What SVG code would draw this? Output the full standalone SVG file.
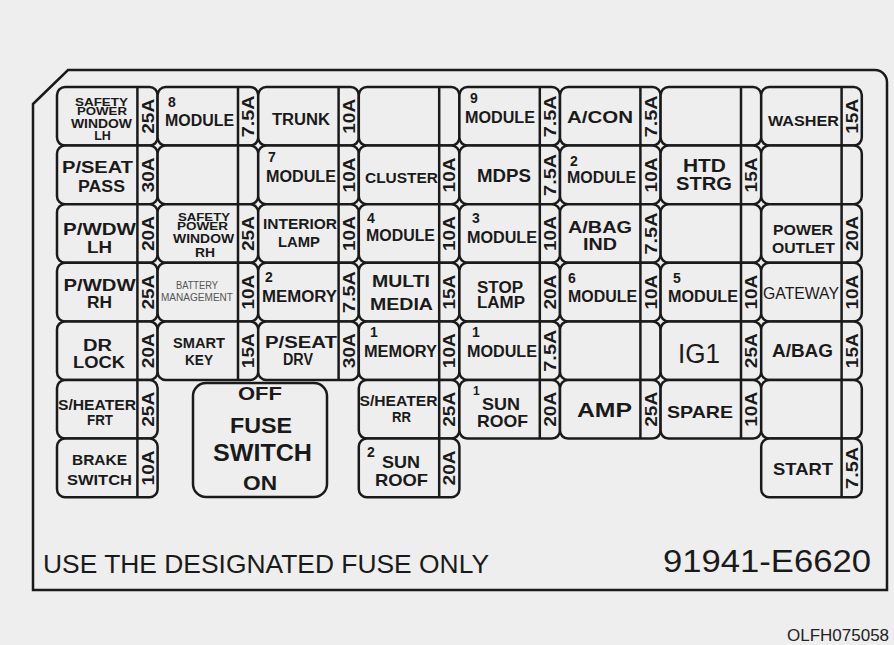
<svg xmlns="http://www.w3.org/2000/svg" xmlns:xlink="http://www.w3.org/1999/xlink" width="894" height="645" viewBox="0 0 894 645">
<style>
.bg{fill:#eeeeee}
.f{fill:#eeeeee;stroke:#1a1a1a;stroke-width:2.5}
.s{stroke:#1a1a1a;stroke-width:2.5}
.t{font-family:"Liberation Sans",Arial,sans-serif;font-weight:bold;font-size:16px;fill:#1a1a1a;text-anchor:middle}
.n{font-family:"Liberation Sans",Arial,sans-serif;font-weight:bold;font-size:14px;fill:#1a1a1a;text-anchor:start}
.a{font-family:"Liberation Sans",Arial,sans-serif;font-weight:bold;font-size:17px;fill:#1a1a1a;text-anchor:middle}
.sm{font-size:11px}
.sm13{font-size:12.5px}
.bm{font-family:"Liberation Sans",Arial,sans-serif;font-weight:normal;font-size:10px;fill:#555555;text-anchor:middle}
.reg{font-weight:normal}
.plate{font-family:"Liberation Sans",Arial,sans-serif;font-weight:normal;fill:#1a1a1a}
</style>
<defs>
<g id="cell"><rect class="f" width="100.6" height="58.6" rx="8"/><line class="s" x1="80.4" y1="0" x2="80.4" y2="58.6"/></g>
</defs>
<rect class="bg" x="0" y="0" width="894" height="645"/>
<g id="panel">
<path d="M33 104 L68 70 L875 70 A12 12 0 0 1 887 82 L887 590 L33 590 Z" fill="#eeeeee" stroke="#1a1a1a" stroke-width="2.5"/>
</g>

<!-- Row 0 -->
<g id="r0c0" transform="translate(57 87)"><use href="#cell"/>
<text class="t sm" x="44.5" y="18.5" textLength="53" lengthAdjust="spacingAndGlyphs">SAFETY</text>
<text class="t sm" x="45" y="27.8" textLength="50" lengthAdjust="spacingAndGlyphs">POWER</text>
<text class="t sm13" x="44.5" y="41" textLength="61" lengthAdjust="spacingAndGlyphs">WINDOW</text>
<text class="t sm13" x="45.5" y="53">LH</text>
<text class="a" transform="translate(90.5 29.3) rotate(-90)" dy="6" textLength="35" lengthAdjust="spacingAndGlyphs">25A</text></g>
<g id="r0c1" transform="translate(157.6 87)"><use href="#cell"/>
<text class="n" x="10.5" y="20">8</text>
<text class="t" x="42" y="39" textLength="69" lengthAdjust="spacingAndGlyphs">MODULE</text>
<text class="a" transform="translate(90.5 29.3) rotate(-90)" dy="6" textLength="42" lengthAdjust="spacingAndGlyphs">7.5A</text></g>
<g id="r0c2" transform="translate(258.2 87)"><use href="#cell"/>
<text class="t" x="42.8" y="38" textLength="58" lengthAdjust="spacingAndGlyphs">TRUNK</text>
<text class="a" transform="translate(90.5 29.3) rotate(-90)" dy="6" textLength="35" lengthAdjust="spacingAndGlyphs">10A</text></g>
<g id="r0c3" transform="translate(358.8 87)"><use href="#cell"/></g>
<g id="r0c4" transform="translate(459.4 87)"><use href="#cell"/>
<text class="n" x="10.6" y="16">9</text>
<text class="t" x="40.6" y="36" textLength="70" lengthAdjust="spacingAndGlyphs">MODULE</text>
<text class="a" transform="translate(90.5 29.3) rotate(-90)" dy="6" textLength="42" lengthAdjust="spacingAndGlyphs">7.5A</text></g>
<g id="r0c5" transform="translate(560 87)"><use href="#cell"/>
<text class="t" x="40" y="36" style="font-size:17px" textLength="66" lengthAdjust="spacingAndGlyphs">A/CON</text>
<text class="a" transform="translate(90.5 29.3) rotate(-90)" dy="6" textLength="42" lengthAdjust="spacingAndGlyphs">7.5A</text></g>
<g id="r0c6" transform="translate(660.6 87)"><use href="#cell"/></g>
<g id="r0c7" transform="translate(761.2 87)"><use href="#cell"/>
<text class="t" x="42.3" y="39" style="font-size:15.5px" textLength="71" lengthAdjust="spacingAndGlyphs">WASHER</text>
<text class="a" transform="translate(90.5 29.3) rotate(-90)" dy="6" textLength="35" lengthAdjust="spacingAndGlyphs">15A</text></g>

<!-- Row 1 -->
<g id="r1c0" transform="translate(57 145.6)"><use href="#cell"/>
<text class="t" x="40.5" y="27.7" textLength="71" lengthAdjust="spacingAndGlyphs">P/SEAT</text>
<text class="t" x="44.5" y="46.4" textLength="47" lengthAdjust="spacingAndGlyphs">PASS</text>
<text class="a" transform="translate(90.5 29.3) rotate(-90)" dy="6" textLength="35" lengthAdjust="spacingAndGlyphs">30A</text></g>
<g id="r1c1" transform="translate(157.6 145.6)"><use href="#cell"/></g>
<g id="r1c2" transform="translate(258.2 145.6)"><use href="#cell"/>
<text class="n" x="9.8" y="16.4">7</text>
<text class="t" x="42.8" y="36.4" textLength="70" lengthAdjust="spacingAndGlyphs">MODULE</text>
<text class="a" transform="translate(90.5 29.3) rotate(-90)" dy="6" textLength="35" lengthAdjust="spacingAndGlyphs">10A</text></g>
<g id="r1c3" transform="translate(358.8 145.6)"><use href="#cell"/>
<text class="t" x="42.7" y="37.4" style="font-size:15.5px" textLength="73" lengthAdjust="spacingAndGlyphs">CLUSTER</text>
<text class="a" transform="translate(90.5 29.3) rotate(-90)" dy="6" textLength="35" lengthAdjust="spacingAndGlyphs">10A</text></g>
<g id="r1c4" transform="translate(459.4 145.6)"><use href="#cell"/>
<text class="t" x="44.6" y="36.4" style="font-size:19px" textLength="54" lengthAdjust="spacingAndGlyphs">MDPS</text>
<text class="a" transform="translate(90.5 29.3) rotate(-90)" dy="6" textLength="42" lengthAdjust="spacingAndGlyphs">7.5A</text></g>
<g id="r1c5" transform="translate(560 145.6)"><use href="#cell"/>
<text class="n" x="10" y="20">2</text>
<text class="t" x="41.5" y="37.4" textLength="69" lengthAdjust="spacingAndGlyphs">MODULE</text>
<text class="a" transform="translate(90.5 29.3) rotate(-90)" dy="6" textLength="35" lengthAdjust="spacingAndGlyphs">10A</text></g>
<g id="r1c6" transform="translate(660.6 145.6)"><use href="#cell"/>
<text class="t" x="43.9" y="26.4" style="font-size:19px" textLength="43" lengthAdjust="spacingAndGlyphs">HTD</text>
<text class="t" x="43.4" y="44.4" style="font-size:19px" textLength="56" lengthAdjust="spacingAndGlyphs">STRG</text>
<text class="a" transform="translate(90.5 29.3) rotate(-90)" dy="6" textLength="35" lengthAdjust="spacingAndGlyphs">15A</text></g>
<g id="r1c7" transform="translate(761.2 145.6)"><use href="#cell"/></g>

<!-- Row 2 -->
<g id="r2c0" transform="translate(57 204.2)"><use href="#cell"/>
<text class="t" x="42.5" y="30.8" style="font-size:16.5px" textLength="73" lengthAdjust="spacingAndGlyphs">P/WDW</text>
<text class="t" x="42.5" y="48.8" style="font-size:16.5px" textLength="25" lengthAdjust="spacingAndGlyphs">LH</text>
<text class="a" transform="translate(90.5 29.3) rotate(-90)" dy="6" textLength="35" lengthAdjust="spacingAndGlyphs">20A</text></g>
<g id="r2c1" transform="translate(157.6 204.2)"><use href="#cell"/>
<text class="t sm" x="46.4" y="16.5" textLength="52" lengthAdjust="spacingAndGlyphs">SAFETY</text>
<text class="t sm" x="45" y="25.8" textLength="51" lengthAdjust="spacingAndGlyphs">POWER</text>
<text class="t sm13" x="46" y="38.8" textLength="61" lengthAdjust="spacingAndGlyphs">WINDOW</text>
<text class="t sm13" x="47.4" y="52.8" textLength="20" lengthAdjust="spacingAndGlyphs">RH</text>
<text class="a" transform="translate(90.5 29.3) rotate(-90)" dy="6" textLength="35" lengthAdjust="spacingAndGlyphs">25A</text></g>
<g id="r2c2" transform="translate(258.2 204.2)"><use href="#cell"/>
<text class="t" x="41.8" y="24.8" style="font-size:15px" textLength="74" lengthAdjust="spacingAndGlyphs">INTERIOR</text>
<text class="t" x="40.8" y="42.8" style="font-size:15px" textLength="42" lengthAdjust="spacingAndGlyphs">LAMP</text>
<text class="a" transform="translate(90.5 29.3) rotate(-90)" dy="6" textLength="35" lengthAdjust="spacingAndGlyphs">10A</text></g>
<g id="r2c3" transform="translate(358.8 204.2)"><use href="#cell"/>
<text class="n" x="8.2" y="18.8">4</text>
<text class="t" x="41.7" y="36.8" textLength="69" lengthAdjust="spacingAndGlyphs">MODULE</text>
<text class="a" transform="translate(90.5 29.3) rotate(-90)" dy="6" textLength="35" lengthAdjust="spacingAndGlyphs">10A</text></g>
<g id="r2c4" transform="translate(459.4 204.2)"><use href="#cell"/>
<text class="n" x="12.6" y="18.8">3</text>
<text class="t" x="42.6" y="38.8" textLength="70" lengthAdjust="spacingAndGlyphs">MODULE</text>
<text class="a" transform="translate(90.5 29.3) rotate(-90)" dy="6" textLength="35" lengthAdjust="spacingAndGlyphs">10A</text></g>
<g id="r2c5" transform="translate(560 204.2)"><use href="#cell"/>
<text class="t" x="40" y="28.8" textLength="64" lengthAdjust="spacingAndGlyphs">A/BAG</text>
<text class="t" x="40" y="45.8" textLength="34" lengthAdjust="spacingAndGlyphs">IND</text>
<text class="a" transform="translate(90.5 29.3) rotate(-90)" dy="6" textLength="42" lengthAdjust="spacingAndGlyphs">7.5A</text></g>
<g id="r2c6" transform="translate(660.6 204.2)"><use href="#cell"/></g>
<g id="r2c7" transform="translate(761.2 204.2)"><use href="#cell"/>
<text class="t" x="41.8" y="30.8" style="font-size:15px" textLength="60" lengthAdjust="spacingAndGlyphs">POWER</text>
<text class="t" x="42.3" y="48.8" style="font-size:15px" textLength="63" lengthAdjust="spacingAndGlyphs">OUTLET</text>
<text class="a" transform="translate(90.5 29.3) rotate(-90)" dy="6" textLength="35" lengthAdjust="spacingAndGlyphs">20A</text></g>

<!-- Row 3 -->
<g id="r3c0" transform="translate(57 262.8)"><use href="#cell"/>
<text class="t" x="42.5" y="28.2" style="font-size:16.5px" textLength="72" lengthAdjust="spacingAndGlyphs">P/WDW</text>
<text class="t" x="42.5" y="45.2" style="font-size:16.5px" textLength="25" lengthAdjust="spacingAndGlyphs">RH</text>
<text class="a" transform="translate(90.5 29.3) rotate(-90)" dy="6" textLength="35" lengthAdjust="spacingAndGlyphs">25A</text></g>
<g id="r3c1" transform="translate(157.6 262.8)"><use href="#cell"/>
<text class="bm" x="39.4" y="26.2" textLength="42" lengthAdjust="spacingAndGlyphs">BATTERY</text>
<text class="bm" x="39.4" y="38.2" textLength="72" lengthAdjust="spacingAndGlyphs">MANAGEMENT</text>
<text class="a" transform="translate(90.5 29.3) rotate(-90)" dy="6" textLength="35" lengthAdjust="spacingAndGlyphs">10A</text></g>
<g id="r3c2" transform="translate(258.2 262.8)"><use href="#cell"/>
<text class="n" x="6.8" y="19.2">2</text>
<text class="t" x="41.3" y="39.2" textLength="75" lengthAdjust="spacingAndGlyphs">MEMORY</text>
<text class="a" transform="translate(90.5 29.3) rotate(-90)" dy="6" textLength="42" lengthAdjust="spacingAndGlyphs">7.5A</text></g>
<g id="r3c3" transform="translate(358.8 262.8)"><use href="#cell"/>
<text class="t" x="42.2" y="24.2" style="font-size:17px" textLength="58" lengthAdjust="spacingAndGlyphs">MULTI</text>
<text class="t" x="42.7" y="47.2" style="font-size:17px" textLength="63" lengthAdjust="spacingAndGlyphs">MEDIA</text>
<text class="a" transform="translate(90.5 29.3) rotate(-90)" dy="6" textLength="35" lengthAdjust="spacingAndGlyphs">15A</text></g>
<g id="r3c4" transform="translate(459.4 262.8)"><use href="#cell"/>
<text class="t" x="40.6" y="30.2" textLength="46" lengthAdjust="spacingAndGlyphs">STOP</text>
<text class="t" x="41.6" y="45.7" textLength="48" lengthAdjust="spacingAndGlyphs">LAMP</text>
<text class="a" transform="translate(90.5 29.3) rotate(-90)" dy="6" textLength="35" lengthAdjust="spacingAndGlyphs">20A</text></g>
<g id="r3c5" transform="translate(560 262.8)"><use href="#cell"/>
<text class="n" x="8" y="20.2">6</text>
<text class="t" x="42.5" y="39.2" textLength="69" lengthAdjust="spacingAndGlyphs">MODULE</text>
<text class="a" transform="translate(90.5 29.3) rotate(-90)" dy="6" textLength="35" lengthAdjust="spacingAndGlyphs">10A</text></g>
<g id="r3c6" transform="translate(660.6 262.8)"><use href="#cell"/>
<text class="n" x="12.4" y="20.2">5</text>
<text class="t" x="42.4" y="39.2" textLength="70" lengthAdjust="spacingAndGlyphs">MODULE</text>
<text class="a" transform="translate(90.5 29.3) rotate(-90)" dy="6" textLength="35" lengthAdjust="spacingAndGlyphs">10A</text></g>
<g id="r3c7" transform="translate(761.2 262.8)"><use href="#cell"/>
<text class="t reg" x="39.8" y="36.2" style="font-size:17px" textLength="76" lengthAdjust="spacingAndGlyphs">GATEWAY</text>
<text class="a" transform="translate(90.5 29.3) rotate(-90)" dy="6" textLength="35" lengthAdjust="spacingAndGlyphs">10A</text></g>

<!-- Row 4 -->
<g id="r4c0" transform="translate(57 321.4)"><use href="#cell"/>
<text class="t" x="40.5" y="29.6" textLength="29" lengthAdjust="spacingAndGlyphs">DR</text>
<text class="t" x="42" y="46.6" textLength="52" lengthAdjust="spacingAndGlyphs">LOCK</text>
<text class="a" transform="translate(90.5 29.3) rotate(-90)" dy="6" textLength="35" lengthAdjust="spacingAndGlyphs">20A</text></g>
<g id="r4c1" transform="translate(157.6 321.4)"><use href="#cell"/>
<text class="t" x="41.4" y="26.6" style="font-size:15px" textLength="52" lengthAdjust="spacingAndGlyphs">SMART</text>
<text class="t" x="41.4" y="43.6" style="font-size:15px" textLength="28" lengthAdjust="spacingAndGlyphs">KEY</text>
<text class="a" transform="translate(90.5 29.3) rotate(-90)" dy="6" textLength="35" lengthAdjust="spacingAndGlyphs">15A</text></g>
<g id="r4c2" transform="translate(258.2 321.4)"><use href="#cell"/>
<text class="t" x="42.8" y="26.6" textLength="72" lengthAdjust="spacingAndGlyphs">P/SEAT</text>
<text class="t" x="39.8" y="43.6" textLength="30" lengthAdjust="spacingAndGlyphs">DRV</text>
<text class="a" transform="translate(90.5 29.3) rotate(-90)" dy="6" textLength="35" lengthAdjust="spacingAndGlyphs">30A</text></g>
<g id="r4c3" transform="translate(358.8 321.4)"><use href="#cell"/>
<text class="n" x="11.2" y="15.6">1</text>
<text class="t" x="41.7" y="35.6" textLength="73" lengthAdjust="spacingAndGlyphs">MEMORY</text>
<text class="a" transform="translate(90.5 29.3) rotate(-90)" dy="6" textLength="35" lengthAdjust="spacingAndGlyphs">10A</text></g>
<g id="r4c4" transform="translate(459.4 321.4)"><use href="#cell"/>
<text class="n" x="12.6" y="15.6">1</text>
<text class="t" x="42.6" y="35.6" textLength="70" lengthAdjust="spacingAndGlyphs">MODULE</text>
<text class="a" transform="translate(90.5 29.3) rotate(-90)" dy="6" textLength="42" lengthAdjust="spacingAndGlyphs">7.5A</text></g>
<g id="r4c5" transform="translate(560 321.4)"><use href="#cell"/></g>
<g id="r4c6" transform="translate(660.6 321.4)"><use href="#cell"/>
<text class="t reg" x="38.4" y="41.6" style="font-size:27px" textLength="42" lengthAdjust="spacingAndGlyphs">IG1</text>
<text class="a" transform="translate(90.5 29.3) rotate(-90)" dy="6" textLength="35" lengthAdjust="spacingAndGlyphs">25A</text></g>
<g id="r4c7" transform="translate(761.2 321.4)"><use href="#cell"/>
<text class="t" x="41.3" y="35.6" style="font-size:18px" textLength="61" lengthAdjust="spacingAndGlyphs">A/BAG</text>
<text class="a" transform="translate(90.5 29.3) rotate(-90)" dy="6" textLength="35" lengthAdjust="spacingAndGlyphs">15A</text></g>

<!-- Row 5 -->
<g id="r5c0" transform="translate(57 380)"><use href="#cell"/>
<text class="t" x="40" y="30" style="font-size:14px" textLength="78" lengthAdjust="spacingAndGlyphs">S/HEATER</text>
<text class="t" x="43" y="45" style="font-size:14px" textLength="26" lengthAdjust="spacingAndGlyphs">FRT</text>
<text class="a" transform="translate(90.5 29.3) rotate(-90)" dy="6" textLength="35" lengthAdjust="spacingAndGlyphs">25A</text></g>
<g id="fuse-switch">
<rect class="f" x="193" y="383" width="134" height="114" rx="13"/>
<text class="t" x="260" y="400" style="font-size:18px" textLength="44" lengthAdjust="spacingAndGlyphs">OFF</text>
<text class="t" x="261" y="433" style="font-size:22px" textLength="62" lengthAdjust="spacingAndGlyphs">FUSE</text>
<text class="t" x="262.5" y="461" style="font-size:24px" textLength="99" lengthAdjust="spacingAndGlyphs">SWITCH</text>
<text class="t" x="260" y="490" style="font-size:20px" textLength="34" lengthAdjust="spacingAndGlyphs">ON</text>
</g>
<g id="r5c3" transform="translate(358.8 380)"><use href="#cell"/>
<text class="t" x="39.7" y="26" style="font-size:14px" textLength="78" lengthAdjust="spacingAndGlyphs">S/HEATER</text>
<text class="t" x="42.7" y="42" style="font-size:14px" textLength="19" lengthAdjust="spacingAndGlyphs">RR</text>
<text class="a" transform="translate(90.5 29.3) rotate(-90)" dy="6" textLength="35" lengthAdjust="spacingAndGlyphs">25A</text></g>
<g id="r5c4" transform="translate(459.4 380)"><use href="#cell"/>
<text class="n" x="13.6" y="15" style="font-size:12px">1</text>
<text class="t" x="41.6" y="30" style="font-size:17px" textLength="38" lengthAdjust="spacingAndGlyphs">SUN</text>
<text class="t" x="43.1" y="47" style="font-size:17px" textLength="51" lengthAdjust="spacingAndGlyphs">ROOF</text>
<text class="a" transform="translate(90.5 29.3) rotate(-90)" dy="6" textLength="35" lengthAdjust="spacingAndGlyphs">20A</text></g>
<g id="r5c5" transform="translate(560 380)"><use href="#cell"/>
<text class="t" x="44.5" y="37" style="font-size:21px" textLength="55" lengthAdjust="spacingAndGlyphs">AMP</text>
<text class="a" transform="translate(90.5 29.3) rotate(-90)" dy="6" textLength="35" lengthAdjust="spacingAndGlyphs">25A</text></g>
<g id="r5c6" transform="translate(660.6 380)"><use href="#cell"/>
<text class="t" x="39.4" y="38" style="font-size:17px" textLength="66" lengthAdjust="spacingAndGlyphs">SPARE</text>
<text class="a" transform="translate(90.5 29.3) rotate(-90)" dy="6" textLength="35" lengthAdjust="spacingAndGlyphs">10A</text></g>
<g id="r5c7" transform="translate(761.2 380)"><use href="#cell"/></g>

<!-- Row 6 -->
<g id="r6c0" transform="translate(57 438.6)"><use href="#cell"/>
<text class="t" x="42.5" y="26.4" style="font-size:15px" textLength="55" lengthAdjust="spacingAndGlyphs">BRAKE</text>
<text class="t" x="42.5" y="46.4" style="font-size:15px" textLength="65" lengthAdjust="spacingAndGlyphs">SWITCH</text>
<text class="a" transform="translate(90.5 29.3) rotate(-90)" dy="6" textLength="35" lengthAdjust="spacingAndGlyphs">10A</text></g>
<g id="r6c3" transform="translate(358.8 438.6)"><use href="#cell"/>
<text class="n" x="8.2" y="18.4">2</text>
<text class="t" x="42.2" y="29.4" style="font-size:17px" textLength="38" lengthAdjust="spacingAndGlyphs">SUN</text>
<text class="t" x="42.7" y="47.4" style="font-size:17px" textLength="53" lengthAdjust="spacingAndGlyphs">ROOF</text>
<text class="a" transform="translate(90.5 29.3) rotate(-90)" dy="6" textLength="35" lengthAdjust="spacingAndGlyphs">20A</text></g>
<g id="r6c7" transform="translate(761.2 438.6)"><use href="#cell"/>
<text class="t" x="41.8" y="36.4" style="font-size:16.5px" textLength="60" lengthAdjust="spacingAndGlyphs">START</text>
<text class="a" transform="translate(90.5 29.3) rotate(-90)" dy="6" textLength="42" lengthAdjust="spacingAndGlyphs">7.5A</text></g>

<g id="footer">
<text class="plate" x="43" y="573" style="font-size:25px" textLength="446" lengthAdjust="spacingAndGlyphs">USE THE DESIGNATED FUSE ONLY</text>
<text class="plate" x="663" y="572" style="font-size:32px" textLength="208" lengthAdjust="spacingAndGlyphs">91941-E6620</text>
</g>
<text id="code" x="787" y="641" style="font-family:'Liberation Sans',Arial,sans-serif;font-size:17px;fill:#222222">OLFH075058</text>
</svg>
